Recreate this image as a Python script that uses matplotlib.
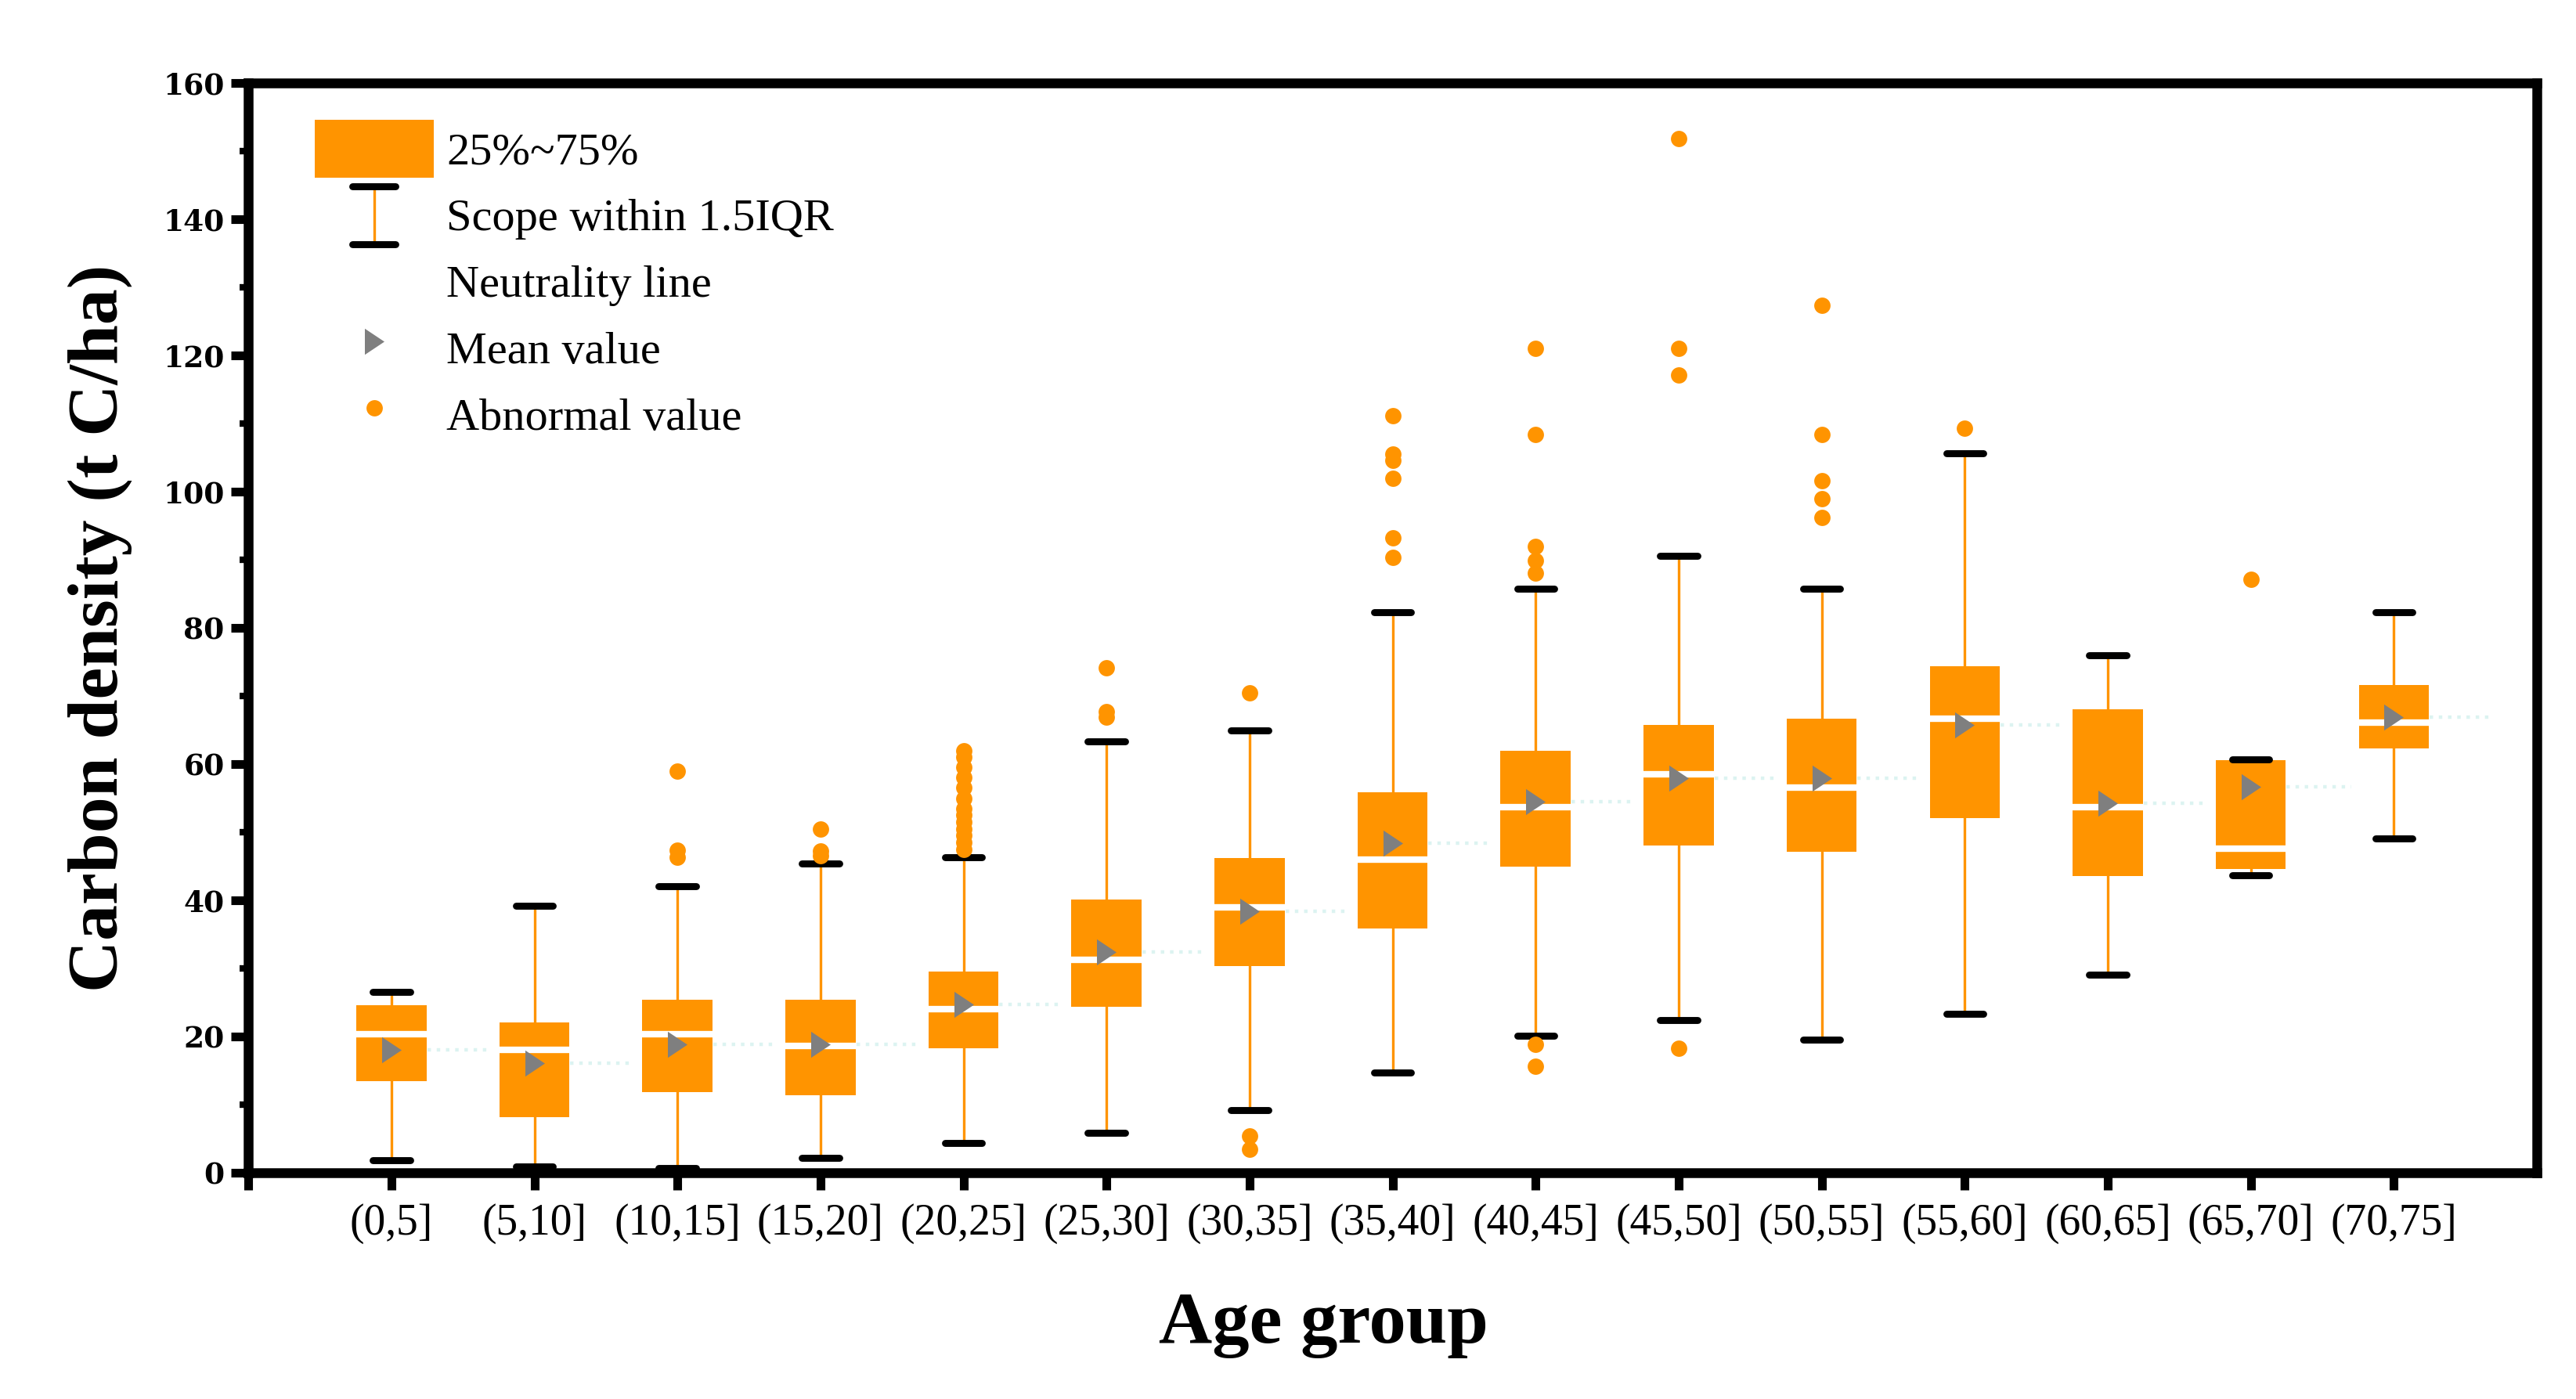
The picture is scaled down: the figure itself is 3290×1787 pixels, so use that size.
import numpy as np
import matplotlib
matplotlib.use("Agg")
import matplotlib.pyplot as plt
from matplotlib.lines import Line2D
from matplotlib.patches import Patch
from matplotlib.legend_handler import HandlerBase

# age groups and box statistics (t C/ha)
groups = ["(0,5]", "(5,10]", "(10,15]", "(15,20]", "(20,25]", "(25,30]",
          "(30,35]", "(35,40]", "(40,45]", "(45,50]", "(50,55]", "(55,60]",
          "(60,65]", "(65,70]", "(70,75]"]
q1 = [13.4, 8.2, 11.8, 11.4, 18.3, 24.4, 30.4, 35.9, 44.9, 48.0, 47.1, 52.1, 43.6, 44.6, 62.3]
q3 = [24.6, 22.1, 25.4, 25.4, 29.6, 40.1, 46.2, 55.9, 62.0, 65.8, 66.7, 74.4, 68.0, 60.6, 71.6]
med = [20.3, 18.0, 20.3, 18.6, 24.0, 31.3, 39.0, 46.0, 53.7, 58.5, 56.6, 66.7, 53.7, 47.6, 66.1]
mean = [18.0, 16.1, 18.9, 18.8, 24.7, 32.4, 38.4, 48.4, 54.5, 57.9, 57.9, 65.8, 54.3, 56.7, 66.9]
whislo = [1.9, 0.9, 0.7, 2.2, 4.4, 5.9, 9.2, 14.7, 20.1, 22.4, 19.5, 23.3, 29.1, 43.7, 49.1]
whishi = [26.5, 39.2, 42.1, 45.4, 46.3, 63.3, 65.0, 82.3, 85.8, 90.6, 85.8, 105.6, 76.0, 60.7, 82.3]
fliers = [
    [],
    [],
    [59.0, 47.4, 46.3],
    [50.5, 47.3, 46.6],
    [47.5, 48.5, 49.5, 50.5, 51.5, 52.5, 53.5, 55.0, 56.5, 58.0, 59.5, 61.0, 62.0],
    [74.1, 67.7, 66.9],
    [70.5, 5.4, 3.5],
    [111.2, 105.5, 104.6, 102.0, 93.2, 90.3],
    [121.0, 108.4, 92.0, 89.9, 88.0, 18.8, 15.6],
    [151.8, 121.0, 117.1, 18.3],
    [127.4, 108.4, 101.6, 99.0, 96.2],
    [109.3],
    [],
    [87.1],
    [],
]

box_color = "#ff9400"
mean_color = "#7f7f7f"
neutral_color = "#dcf3f1"
tri = [(-0.75, -1.0), (0.75, 0.0), (-0.75, 1.0)]

stats = []
for i in range(len(groups)):
    stats.append(
        dict(
            label=groups[i],
            q1=q1[i],
            q3=q3[i],
            med=med[i],
            mean=mean[i],
            whislo=whislo[i],
            whishi=whishi[i],
            fliers=np.array(fliers[i]),
        )
    )
pos = np.arange(1, len(groups) + 1)


class WhiskerHandler(HandlerBase):
    def create_artists(self, legend, orig_handle, xdescent, ydescent,
                       width, height, fontsize, trans):
        xc = -xdescent + width / 2
        cw = 0.18 * width
        y0 = -ydescent
        y1 = height - ydescent
        stem = Line2D([xc, xc], [y0, y1], color=box_color, lw=1.2)
        cap1 = Line2D([xc - cw, xc + cw], [y0, y0], color="black", lw=3.2,
                      solid_capstyle="round")
        cap2 = Line2D([xc - cw, xc + cw], [y1, y1], color="black", lw=3.2,
                      solid_capstyle="round")
        arts = [stem, cap1, cap2]
        for a in arts:
            a.set_transform(trans)
        return arts


fg = plt.figure(figsize=(16.45, 8.935), dpi=200)
ax = fg.add_axes([0.0964, 0.1617, 0.9848 - 0.0964, 0.9407 - 0.1617])

# neutrality line: short dotted segments at each mean level
for i in range(len(groups)):
    ax.plot([pos[i] + 0.25, pos[i] + 0.70], [mean[i], mean[i]],
            linestyle=":", color=neutral_color, lw=1.6, zorder=1)

ax.bxp(
    stats,
    positions=pos,
    widths=0.49,
    capwidths=0.26,
    patch_artist=True,
    showmeans=True,
    boxprops=dict(facecolor=box_color, edgecolor="none", linewidth=0),
    medianprops=dict(color="white", lw=3),
    whiskerprops=dict(color=box_color, lw=1.2),
    capprops=dict(color="black", lw=3.2, solid_capstyle="round"),
    flierprops=dict(marker="o", markerfacecolor=box_color,
                    markeredgecolor="none", markersize=7.5),
    meanprops=dict(marker=tri, markerfacecolor=mean_color,
                   markeredgecolor="none", markersize=12),
    manage_ticks=False,
)

ax.set_xlim(0, 16)
ax.set_ylim(0, 160)
ax.set_xticks(np.arange(0, 16))
ax.set_xticklabels([""] + groups, family="Liberation Serif", fontsize=20)
ax.set_yticks(np.arange(0, 161, 20))
ax.set_yticks(np.arange(10, 160, 20), minor=True)
for lab in ax.get_yticklabels():
    lab.set_family("DejaVu Serif")
    lab.set_fontweight("bold")
    lab.set_fontsize(13.5)
for s in ax.spines.values():
    s.set_linewidth(4.5)
ax.tick_params(axis="both", which="major", direction="out", length=8,
               width=4, pad=6)
ax.tick_params(axis="y", which="major", pad=3)
ax.tick_params(axis="y", which="minor", direction="out", length=4, width=3)

ax.set_ylabel("Carbon density (t C/ha)", family="Liberation Serif",
              fontweight="bold", fontsize=33, labelpad=14)
ax.set_xlabel("Age group", family="Liberation Serif", fontweight="bold",
              fontsize=34)
ax.xaxis.set_label_coords(0.47, -0.109)

h_box = Patch(facecolor=box_color, edgecolor="none")
h_whisk = Line2D([], [], color=box_color)
h_neutral = Line2D([], [], color="white", lw=1.0)
h_mean = Line2D([], [], linestyle="", marker=tri, markerfacecolor=mean_color,
                markeredgecolor="none", markersize=12)
h_abn = Line2D([], [], linestyle="", marker="o", markerfacecolor=box_color,
               markeredgecolor="none", markersize=7.5)
ax.legend(
    [h_box, h_whisk, h_neutral, h_mean, h_abn],
    ["25%~75%", "Scope within 1.5IQR", "Neutrality line", "Mean value",
     "Abnormal value"],
    handler_map={h_whisk: WhiskerHandler()},
    loc="upper left",
    bbox_to_anchor=(0.029, 0.966),
    frameon=False,
    borderpad=0,
    borderaxespad=0,
    handlelength=2.6,
    handleheight=1.57,
    handletextpad=0.28,
    labelspacing=0.19,
    prop={"family": "Liberation Serif", "size": 21},
)

fg.savefig("out.png", dpi=200)
plt.close(fg)
